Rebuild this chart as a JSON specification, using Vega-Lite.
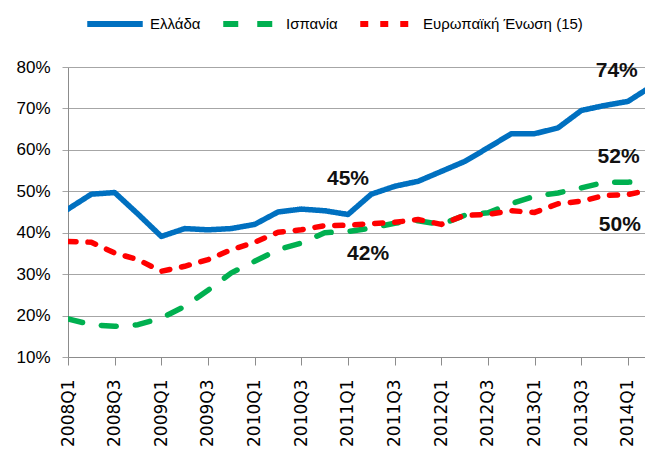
{
  "$schema": "https://vega.github.io/schema/vega-lite/v6.json",
  "width": 577,
  "height": 290,
  "autosize": {"type": "none"},
  "padding": {"left": 68, "top": 67, "right": 0, "bottom": 98},
  "background": "white",
  "config": {
    "view": {"stroke": null},
    "font": "Liberation Sans",
    "legend": {
      "orient": "none",
      "legendX": 16,
      "legendY": -74,
      "direction": "horizontal",
      "columns": 3,
      "symbolType": "stroke",
      "symbolSize": 3080,
      "symbolStrokeWidth": 6,
      "labelFont": "Liberation Sans",
      "labelFontSize": 15,
      "labelColor": "#000000",
      "columnPadding": 10,
      "labelOffset": 4,
      "labelLimit": 300
    }
  },
  "datasets": {
    "series": [
      {"t": 0, "s": "Ελλάδα", "v": 45.7},
      {"t": 1, "s": "Ελλάδα", "v": 49.3},
      {"t": 2, "s": "Ελλάδα", "v": 49.7},
      {"t": 3, "s": "Ελλάδα", "v": 44.5},
      {"t": 4, "s": "Ελλάδα", "v": 39.1},
      {"t": 5, "s": "Ελλάδα", "v": 41.0},
      {"t": 6, "s": "Ελλάδα", "v": 40.7},
      {"t": 7, "s": "Ελλάδα", "v": 41.0},
      {"t": 8, "s": "Ελλάδα", "v": 42.0},
      {"t": 9, "s": "Ελλάδα", "v": 45.0},
      {"t": 10, "s": "Ελλάδα", "v": 45.7},
      {"t": 11, "s": "Ελλάδα", "v": 45.3},
      {"t": 12, "s": "Ελλάδα", "v": 44.4},
      {"t": 13, "s": "Ελλάδα", "v": 49.3},
      {"t": 14, "s": "Ελλάδα", "v": 51.2},
      {"t": 15, "s": "Ελλάδα", "v": 52.4},
      {"t": 16, "s": "Ελλάδα", "v": 54.8},
      {"t": 17, "s": "Ελλάδα", "v": 57.2},
      {"t": 18, "s": "Ελλάδα", "v": 60.5},
      {"t": 19, "s": "Ελλάδα", "v": 63.9},
      {"t": 20, "s": "Ελλάδα", "v": 63.9},
      {"t": 21, "s": "Ελλάδα", "v": 65.3},
      {"t": 22, "s": "Ελλάδα", "v": 69.5},
      {"t": 23, "s": "Ελλάδα", "v": 70.7},
      {"t": 24, "s": "Ελλάδα", "v": 71.7},
      {"t": 25, "s": "Ελλάδα", "v": 75.3},
      {"t": 0, "s": "Ισπανία", "v": 19.2},
      {"t": 1, "s": "Ισπανία", "v": 17.8},
      {"t": 2, "s": "Ισπανία", "v": 17.4},
      {"t": 3, "s": "Ισπανία", "v": 17.8},
      {"t": 4, "s": "Ισπανία", "v": 19.4},
      {"t": 5, "s": "Ισπανία", "v": 22.2},
      {"t": 6, "s": "Ισπανία", "v": 26.1},
      {"t": 7, "s": "Ισπανία", "v": 30.3},
      {"t": 8, "s": "Ισπανία", "v": 33.1},
      {"t": 9, "s": "Ισπανία", "v": 35.9},
      {"t": 10, "s": "Ισπανία", "v": 37.5},
      {"t": 11, "s": "Ισπανία", "v": 40.0},
      {"t": 12, "s": "Ισπανία", "v": 40.3},
      {"t": 13, "s": "Ισπανία", "v": 41.1},
      {"t": 14, "s": "Ισπανία", "v": 42.3},
      {"t": 15, "s": "Ισπανία", "v": 42.9},
      {"t": 16, "s": "Ισπανία", "v": 42.0},
      {"t": 17, "s": "Ισπανία", "v": 44.2},
      {"t": 18, "s": "Ισπανία", "v": 44.8},
      {"t": 19, "s": "Ισπανία", "v": 47.0},
      {"t": 20, "s": "Ισπανία", "v": 48.8},
      {"t": 21, "s": "Ισπανία", "v": 49.6},
      {"t": 22, "s": "Ισπανία", "v": 50.8},
      {"t": 23, "s": "Ισπανία", "v": 52.2},
      {"t": 24, "s": "Ισπανία", "v": 52.2},
      {"t": 25, "s": "Ισπανία", "v": 52.5},
      {"t": 0, "s": "Ευρωπαϊκή Ένωση (15)", "v": 37.9},
      {"t": 1, "s": "Ευρωπαϊκή Ένωση (15)", "v": 37.7},
      {"t": 2, "s": "Ευρωπαϊκή Ένωση (15)", "v": 35.1},
      {"t": 3, "s": "Ευρωπαϊκή Ένωση (15)", "v": 33.5},
      {"t": 4, "s": "Ευρωπαϊκή Ένωση (15)", "v": 30.7},
      {"t": 5, "s": "Ευρωπαϊκή Ένωση (15)", "v": 31.9},
      {"t": 6, "s": "Ευρωπαϊκή Ένωση (15)", "v": 33.5},
      {"t": 7, "s": "Ευρωπαϊκή Ένωση (15)", "v": 35.9},
      {"t": 8, "s": "Ευρωπαϊκή Ένωση (15)", "v": 37.7},
      {"t": 9, "s": "Ευρωπαϊκή Ένωση (15)", "v": 40.1},
      {"t": 10, "s": "Ευρωπαϊκή Ένωση (15)", "v": 40.7},
      {"t": 11, "s": "Ευρωπαϊκή Ένωση (15)", "v": 41.7},
      {"t": 12, "s": "Ευρωπαϊκή Ένωση (15)", "v": 41.8},
      {"t": 13, "s": "Ευρωπαϊκή Ένωση (15)", "v": 42.2},
      {"t": 14, "s": "Ευρωπαϊκή Ένωση (15)", "v": 42.5},
      {"t": 15, "s": "Ευρωπαϊκή Ένωση (15)", "v": 43.2},
      {"t": 16, "s": "Ευρωπαϊκή Ένωση (15)", "v": 42.0},
      {"t": 17, "s": "Ευρωπαϊκή Ένωση (15)", "v": 44.2},
      {"t": 18, "s": "Ευρωπαϊκή Ένωση (15)", "v": 44.4},
      {"t": 19, "s": "Ευρωπαϊκή Ένωση (15)", "v": 45.3},
      {"t": 20, "s": "Ευρωπαϊκή Ένωση (15)", "v": 44.9},
      {"t": 21, "s": "Ευρωπαϊκή Ένωση (15)", "v": 47.0},
      {"t": 22, "s": "Ευρωπαϊκή Ένωση (15)", "v": 47.6},
      {"t": 23, "s": "Ευρωπαϊκή Ένωση (15)", "v": 49.0},
      {"t": 24, "s": "Ευρωπαϊκή Ένωση (15)", "v": 49.2},
      {"t": 25, "s": "Ευρωπαϊκή Ένωση (15)", "v": 50.4}
    ],
    "labels": [
      {"t": 23.52, "v": 79.1, "label": "74%"},
      {"t": 23.6, "v": 58.35, "label": "52%"},
      {"t": 23.65, "v": 41.9, "label": "50%"},
      {"t": 12.0, "v": 53.0, "label": "45%"},
      {"t": 12.86, "v": 34.9, "label": "42%"}
    ]
  },
  "layer": [
    {
      "data": {"name": "series"},
      "transform": [{"filter": "datum.s != 'Ευρωπαϊκή Ένωση (15)'"}],
      "mark": {"type": "line", "strokeWidth": 5.5, "strokeCap": "round", "strokeJoin": "round", "clip": true},
      "encoding": {
        "x": {
          "field": "t", "type": "quantitative",
          "scale": {"domain": [0, 24.73], "nice": false, "zero": false},
          "axis": {
            "values": [0,1,2,3,4,5,6,7,8,9,10,11,12,13,14,15,16,17,18,19,20,21,22,23,24],
            "labelExpr": "datum.value % 2 == 0 ? (2008 + floor(datum.value / 4)) + 'Q' + (datum.value % 4 + 1) : ''",
            "labelAngle": -90,
            "grid": false,
            "title": null,
            "tickSize": 8,
            "labelPadding": 14,
            "labelFont": "DejaVu Sans",
            "labelFontSize": 17,
            "labelColor": "#000000",
            "domainColor": "#8C8C8C",
            "tickColor": "#8C8C8C",
            "labelOverlap": false,
            "labelFlush": false,
            "labelBound": false
          }
        },
        "y": {
          "field": "v", "type": "quantitative",
          "scale": {"domain": [10, 80], "nice": false, "zero": false},
          "axis": {
            "values": [10, 20, 30, 40, 50, 60, 70, 80],
            "labelExpr": "datum.value + '%'",
            "title": null,
            "grid": true,
            "gridColor": "#A6A6A6",
            "domainColor": "#8C8C8C",
            "tickColor": "#A6A6A6",
            "tickSize": 6,
            "labelFont": "Liberation Sans",
            "labelFontSize": 17,
            "labelColor": "#000000",
            "labelPadding": 12
          }
        },
        "color": {
          "field": "s", "type": "nominal",
          "scale": {"domain": ["Ελλάδα", "Ισπανία", "Ευρωπαϊκή Ένωση (15)"], "range": ["#0070C0", "#00B050", "#FF0000"]},
          "legend": {"title": null}
        },
        "strokeDash": {
          "field": "s", "type": "nominal",
          "scale": {"domain": ["Ελλάδα", "Ισπανία", "Ευρωπαϊκή Ένωση (15)"], "range": [[1, 0], [15, 19], [8, 12]]},
          "legend": {"title": null}
        }
      }
    },
    {
      "data": {"name": "series"},
      "transform": [{"filter": "datum.s == 'Ευρωπαϊκή Ένωση (15)'"}],
      "mark": {"type": "line", "strokeWidth": 5.5, "strokeCap": "round", "strokeJoin": "round", "clip": true},
      "encoding": {
        "x": {"field": "t", "type": "quantitative", "scale": {"domain": [0, 24.73], "nice": false, "zero": false}},
        "y": {"field": "v", "type": "quantitative", "scale": {"domain": [10, 80], "nice": false, "zero": false}},
        "color": {
          "field": "s", "type": "nominal",
          "scale": {"domain": ["Ελλάδα", "Ισπανία", "Ευρωπαϊκή Ένωση (15)"], "range": ["#0070C0", "#00B050", "#FF0000"]},
          "legend": {"title": null}
        },
        "strokeDash": {
          "field": "s", "type": "nominal",
          "scale": {"domain": ["Ελλάδα", "Ισπανία", "Ευρωπαϊκή Ένωση (15)"], "range": [[1, 0], [15, 19], [8, 12]]},
          "legend": {"title": null}
        }
      }
    },
    {
      "data": {"name": "labels"},
      "mark": {"type": "text", "font": "Liberation Sans", "fontWeight": "bold", "fontSize": 21, "color": "#111111", "align": "center", "baseline": "middle"},
      "encoding": {
        "x": {"field": "t", "type": "quantitative", "scale": {"domain": [0, 24.73], "nice": false, "zero": false}},
        "y": {"field": "v", "type": "quantitative", "scale": {"domain": [10, 80], "nice": false, "zero": false}},
        "text": {"field": "label", "type": "nominal"}
      }
    }
  ]
}
